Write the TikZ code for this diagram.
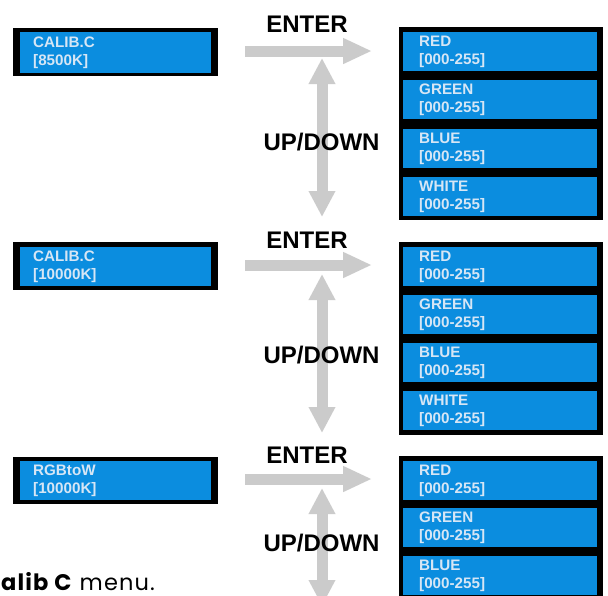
\documentclass[tikz,border=0pt]{standalone}
\usepackage{fontspec}
\setmainfont{Liberation Sans}
\newfontfamily\capfont[LetterSpace=5]{Poppins}
\usetikzlibrary{arrows.meta}
\definecolor{lcdblue}{HTML}{0B8DDF}
\definecolor{lcdtext}{HTML}{D6E6F5}
\definecolor{arrowgray}{HTML}{CBCBCB}
\tikzset{
  cell/.style={fill=lcdblue, text=lcdtext, font=\bfseries\fontsize{15.2}{18}\selectfont,
    align=left, anchor=north west, inner xsep=16pt, inner ysep=0pt, text width=162pt,
    minimum height=39pt},
  lcell/.style={cell, inner xsep=13pt, text width=165pt, minimum height=40pt},
  frame/.style={fill=black, anchor=north west, inner sep=0pt},
  fatarrow/.style={draw=arrowgray, line width=11pt, -{Triangle[length=29pt,width=24pt]}},
  updown/.style={draw=arrowgray, line width=11pt,
    {Triangle[length=26pt,width=25pt]}-{Triangle[length=26pt,width=25pt]}},
  keylabel/.style={font=\bfseries\fontsize{24}{28}\selectfont, text=black, inner sep=0pt, anchor=base},
}
\begin{document}
\begin{tikzpicture}[x=1pt,y=-1pt]
\useasboundingbox (0,0) rectangle (608,595);
\clip (0,0) rectangle (608,595);
\fill[white] (0,0) rectangle (608,595);

% ---- section 1 ----
\node[frame, minimum width=205pt, minimum height=48pt] (lf1) at (13,28) {};
\node[lcell, minimum height=41pt] (l1) at (20,32) {CALIB.C\\{}[8500K]};
\node[frame, minimum width=204pt, minimum height=193pt] (s1) at (399,27) {};
\node[cell] (r1) at (403,32) {RED\\{}[000-255]};
\node[cell] (g1) at (403,80) {GREEN\\{}[000-255]};
\node[cell] (b1) at (403,129) {BLUE\\{}[000-255]};
\node[cell] (w1) at (403,177) {WHITE\\{}[000-255]};
\coordinate (ea1) at (245,51);
\coordinate (eb1) at (372,51);
\coordinate (ua1) at (322,58);
\coordinate (ub1) at (322,217);
\draw[fatarrow] (ea1) -- (eb1);
\draw[updown] (ua1) -- (ub1);
\node[keylabel] (e1) at (307,32) {ENTER};
\node[keylabel] (u1) at (321.5,150) {UP/DOWN};

% ---- section 2 ----
\node[frame, minimum width=205pt, minimum height=48pt] (lf2) at (13,242) {};
\node[lcell, minimum height=39pt] (l2) at (20,247) {CALIB.C\\{}[10000K]};
\node[frame, minimum width=204pt, minimum height=193pt] (s2) at (399,242) {};
\node[cell] (r2) at (403,247) {RED\\{}[000-255]};
\node[cell] (g2) at (403,295) {GREEN\\{}[000-255]};
\node[cell] (b2) at (403,343) {BLUE\\{}[000-255]};
\node[cell] (w2) at (403,391) {WHITE\\{}[000-255]};
\coordinate (ea2) at (245,265);
\coordinate (eb2) at (372,265);
\coordinate (ua2) at (322,274);
\coordinate (ub2) at (322,433);
\draw[fatarrow] (ea2) -- (eb2);
\draw[updown] (ua2) -- (ub2);
\node[keylabel] (e2) at (307,248) {ENTER};
\node[keylabel] (u2) at (321.5,363) {UP/DOWN};

% ---- section 3 ----
\node[frame, minimum width=205pt, minimum height=47pt] (lf3) at (13,457) {};
\node[lcell, minimum height=39pt] (l3) at (20,461) {RGBtoW\\{}[10000K]};
\node[frame, minimum width=204pt, minimum height=160pt] (s3) at (399,456) {};
\node[cell] (r3) at (403,461) {RED\\{}[000-255]};
\node[cell] (g3) at (403,508) {GREEN\\{}[000-255]};
\node[cell] (b3) at (403,556) {BLUE\\{}[000-255]};
\coordinate (ea3) at (245,479);
\coordinate (eb3) at (372,479);
\coordinate (ua3) at (322,488);
\coordinate (ub3) at (322,606);
\draw[fatarrow] (ea3) -- (eb3);
\draw[updown] (ua3) -- (ub3);
\node[keylabel] (e3) at (307,463) {ENTER};
\node[keylabel] (u3) at (321.5,551) {UP/DOWN};

% ---- caption fragment ----
\node[anchor=base west, inner sep=0pt, font=\capfont\fontsize{22.5}{26}\selectfont] (cap) at (1,590) {\textbf{alib C} menu.};
\end{tikzpicture}
\end{document}
